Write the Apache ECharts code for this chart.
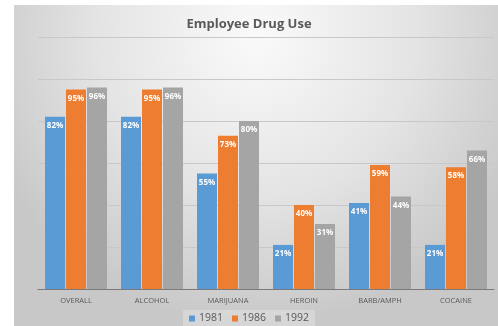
<!DOCTYPE html>
<html><head><meta charset="utf-8">
<script src="https://cdn.jsdelivr.net/npm/echarts@6/dist/echarts.min.js"></script>
<style>html,body{margin:0;padding:0;background:#fff}#c{width:498px;height:326px}</style>
</head><body><div id="c"></div>
<script>
var categories = ['OVERALL','ALCOHOL','MARIJUANA','HEROIN','BARB/AMPH','COCAINE'];
var years = ['1981','1986','1992'];
var v1981 = [82, 82, 55, 21, 41, 21];
var v1986 = [95, 95, 73, 40, 59, 58];
var v1992 = [96, 96, 80, 31, 44, 66];
var colors = ['#5B9BD5','#ED7D31','#A5A5A5'];
var seriesValues = [v1981, v1986, v1992];

var chart = echarts.init(document.getElementById('c'), null, {renderer:'canvas'});
var series = years.map(function(y, i){
  return {
    name: y, type: 'bar', data: seriesValues[i],
    barWidth: 20, barGap: '5%',
    itemStyle: {color: colors[i]},
    label: {show: true, position: 'insideTop', distance: 5, formatter: '{c}%',
      color: '#fff', fontSize: 8, fontWeight: 'bold', fontFamily: 'Open Sans'}
  };
});
chart.setOption({
  animation: false,
  graphic: [{
    type: 'rect', left: 14, top: 5, z: -10, silent: true,
    shape: {width: 484, height: 321},
    style: {fill: new echarts.graphic.RadialGradient(0.5, 0.1, 0.9, [
      {offset: 0, color: '#fafafa'}, {offset: 0.55, color: '#e4e4e4'}, {offset: 1, color: '#c8c8c8'}
    ])}
  }],
  title: {text: 'Employee Drug Use', left: 'center', top: 13,
    textStyle: {fontFamily: 'Open Sans', fontSize: 13, fontWeight: 'bold', color: '#595959'}},
  legend: {data: years, bottom: -2, left: 'center', itemWidth: 6, itemHeight: 6, itemGap: 9,
    icon: 'rect', backgroundColor: 'rgba(255,255,255,0.25)', padding: [3, 6, 4, 6],
    textStyle: {fontFamily: 'Open Sans', fontSize: 10.5, color: '#595959', padding: [0,0,0,-1]}},
  grid: {left: 38, right: 4, top: 37, bottom: 37},
  xAxis: {type: 'category', data: categories,
    axisTick: {show: false},
    axisLine: {lineStyle: {color: '#7a7a7a', width: 1}},
    axisLabel: {fontFamily: 'Open Sans', fontSize: 7.5, color: '#595959', margin: 8}},
  yAxis: {type: 'value', min: 0, max: 120, interval: 20,
    axisLabel: {show: false}, axisLine: {show: false}, axisTick: {show: false},
    splitLine: {lineStyle: {color: '#c8c8c8', width: 1}}},
  series: series
});
</script></body></html>
